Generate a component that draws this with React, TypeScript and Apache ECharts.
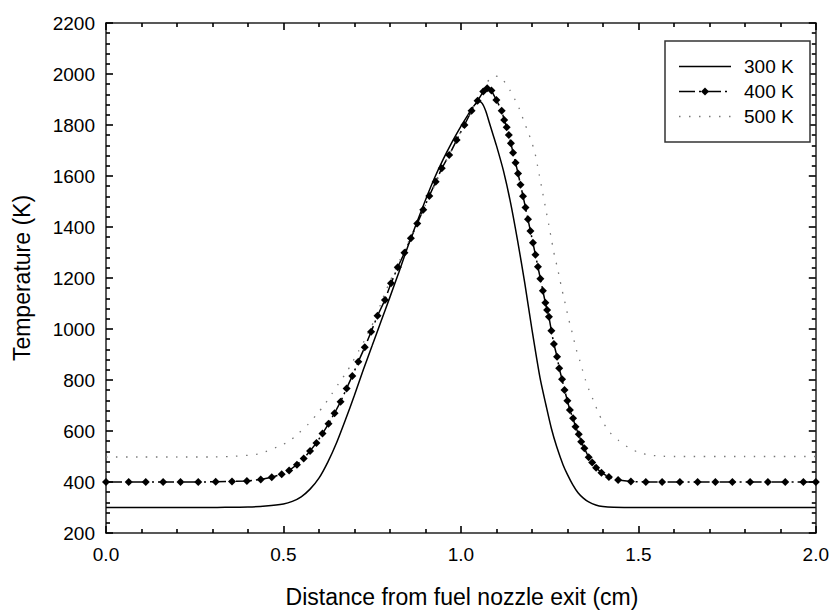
import React, { useEffect, useRef } from "react";
import * as echarts from "echarts";

// ---- data ----
const x300 = [0, 0.1, 0.2, 0.3, 0.35, 0.4, 0.45, 0.5, 0.525, 0.55, 0.575, 0.6, 0.625, 0.65, 0.675, 0.7, 0.725, 0.75, 0.775, 0.8, 0.825, 0.85, 0.875, 0.9, 0.925, 0.95, 0.975, 1.0, 1.02, 1.035, 1.05, 1.06, 1.07, 1.08, 1.09, 1.1, 1.12, 1.14, 1.16, 1.18, 1.2, 1.223, 1.24, 1.255, 1.27, 1.288, 1.3, 1.315, 1.33, 1.345, 1.36, 1.38, 1.4, 1.43, 1.5, 1.75, 2.0];
const t300 = [300, 300, 300, 300, 301, 302, 306, 314, 324, 342, 372, 415, 478, 555, 645, 740, 840, 935, 1030, 1125, 1222, 1322, 1415, 1505, 1590, 1665, 1733, 1795, 1840, 1872, 1893, 1885, 1855, 1810, 1765, 1720, 1620, 1495, 1345, 1180, 1000, 808, 700, 610, 538, 467, 430, 390, 358, 337, 322, 310, 304, 301, 300, 300, 300];

const x400 = [0, 0.064, 0.112, 0.161, 0.21, 0.26, 0.309, 0.355, 0.397, 0.436, 0.467, 0.495, 0.516, 0.538, 0.557, 0.575, 0.593, 0.61, 0.627, 0.644, 0.661, 0.678, 0.694, 0.711, 0.729, 0.747, 0.765, 0.786, 0.803, 0.822, 0.841, 0.859, 0.877, 0.894, 0.911, 0.929, 0.946, 0.967, 0.988, 1.01, 1.03, 1.047, 1.063, 1.074, 1.086, 1.1, 1.115, 1.122, 1.129, 1.135, 1.141, 1.147, 1.154, 1.161, 1.168, 1.175, 1.182, 1.189, 1.196, 1.203, 1.21, 1.217, 1.224, 1.231, 1.238, 1.243, 1.248, 1.255, 1.262, 1.271, 1.277, 1.285, 1.292, 1.3, 1.307, 1.316, 1.323, 1.332, 1.339, 1.348, 1.36, 1.37, 1.381, 1.396, 1.417, 1.443, 1.479, 1.521, 1.567, 1.617, 1.667, 1.717, 1.765, 1.815, 1.865, 1.914, 1.965, 2.0];
const t400 = [400, 400, 400, 400, 400, 400, 401, 402, 404, 410, 419, 430, 445, 468, 492, 522, 553, 590, 628, 670, 715, 767, 816, 872, 928, 989, 1052, 1114, 1179, 1242, 1299, 1356, 1414, 1468, 1522, 1577, 1630, 1682, 1741, 1800, 1856, 1895, 1931, 1944, 1935, 1898, 1856, 1820, 1791, 1761, 1728, 1691, 1652, 1610, 1566, 1521, 1476, 1430, 1384, 1338, 1291, 1244, 1197, 1150, 1103, 1075, 1048, 993, 941, 891, 846, 803, 761, 719, 682, 650, 617, 587, 558, 532, 497, 476, 456, 436, 420, 408, 402, 400, 400, 400, 400, 400, 400, 400, 400, 400, 400, 400];

const x500 = [0, 0.1, 0.2, 0.3, 0.35, 0.402, 0.43, 0.455, 0.483, 0.514, 0.542, 0.57, 0.595, 0.617, 0.636, 0.656, 0.677, 0.694, 0.712, 0.729, 0.742, 0.757, 0.772, 0.787, 0.801, 0.815, 0.829, 0.85, 0.875, 0.9, 0.925, 0.95, 0.975, 1.0, 1.025, 1.05, 1.072, 1.094, 1.105, 1.119, 1.138, 1.154, 1.166, 1.178, 1.189, 1.199, 1.208, 1.218, 1.228, 1.238, 1.248, 1.256, 1.264, 1.272, 1.283, 1.29, 1.297, 1.303, 1.311, 1.318, 1.325, 1.334, 1.342, 1.351, 1.362, 1.374, 1.386, 1.4, 1.418, 1.445, 1.473, 1.502, 1.536, 1.57, 1.6, 1.8, 2.0];
const t500 = [498, 498, 498, 498, 500, 505, 510, 522, 538, 558, 590, 627, 667, 706, 745, 787, 829, 869, 914, 957, 996, 1035, 1090, 1145, 1189, 1235, 1273, 1335, 1410, 1485, 1560, 1635, 1705, 1775, 1845, 1910, 1964, 1992, 1990, 1976, 1937, 1895, 1859, 1813, 1774, 1735, 1695, 1625, 1552, 1479, 1406, 1345, 1286, 1240, 1166, 1123, 1081, 1042, 1000, 960, 920, 881, 842, 800, 757, 718, 676, 636, 597, 562, 535, 515, 505, 501, 500, 500, 500];

const seriesNames = ["300 K", "400 K", "500 K"];
const xTitle = "Distance from fuel nozzle exit (cm)";
const yTitle = "Temperature (K)";

const FONT = "'Liberation Sans', Arial, Helvetica, sans-serif";
const AX = "#000";
const DASH400 = [16, 4, 2, 4];
const DASH500 = [1.5, 8.5];

const zip = (xs: number[], ys: number[]) => xs.map((x, i) => [x, ys[i]]);

function axisParts() {
  return {
    axisLine: { show: true, onZero: false, lineStyle: { color: "#222", width: 1.5 } },
    axisTick: { show: true, inside: true, length: 7, lineStyle: { color: AX, width: 1.6 } },
    minorTick: { show: true, splitNumber: 5, length: 4, lineStyle: { color: AX, width: 1.6 } },
    splitLine: { show: false },
  };
}

// legend drawn as graphics (box 665..810 x 41..142)
function legendGraphics() {
  const rows = [66.5, 91.5, 116.5];
  const lx1 = 679, lx2 = 731, tx = 744;
  const els: any[] = [
    { type: "rect", shape: { x: 665, y: 41, width: 145, height: 101 }, style: { fill: "#fff", stroke: "#333", lineWidth: 1.5 }, z: 10 },
    { type: "line", shape: { x1: lx1, y1: rows[0], x2: lx2, y2: rows[0] }, style: { stroke: "#000", lineWidth: 1.5 }, z: 11 },
    { type: "line", shape: { x1: lx1, y1: rows[1], x2: lx2, y2: rows[1] }, style: { stroke: "#000", lineWidth: 1.5, lineDash: DASH400 }, z: 11 },
    { type: "polygon", shape: { points: [[705, rows[1] - 4], [709, rows[1]], [705, rows[1] + 4], [701, rows[1]]] }, style: { fill: "#000" }, z: 12 },
    { type: "line", shape: { x1: lx1, y1: rows[2], x2: lx2, y2: rows[2] }, style: { stroke: "#777", lineWidth: 1.3, lineDash: DASH500 }, z: 11 },
  ];
  seriesNames.forEach((n, i) => {
    els.push({
      type: "text", x: tx, y: rows[i], z: 12,
      style: { text: n, fontSize: 19, fontFamily: FONT, fill: "#000", align: "left", verticalAlign: "middle", textAlign: "left", textVerticalAlign: "middle" },
    });
  });
  return els;
}

export default function App() {
  const ref = useRef<HTMLDivElement>(null);
  useEffect(() => {
    if (!ref.current) return;
    const chart = echarts.init(ref.current, undefined, { renderer: "svg" });
    chart.setOption({
      animation: false,
      backgroundColor: "#fff",
      grid: { left: 106, right: 13, top: 23, bottom: 78 },
      xAxis: [
        {
          type: "value", min: 0, max: 2, interval: 0.5,
          ...axisParts(),
          axisLabel: { fontSize: 19, color: "#000", margin: 12, fontFamily: FONT, formatter: (v: number) => v.toFixed(1) },
        },
        {
          type: "value", min: 0, max: 2, interval: 0.5, position: "top",
          ...axisParts(),
          axisLabel: { show: false },
        },
      ],
      yAxis: [
        {
          type: "value", min: 200, max: 2200, interval: 200,
          ...axisParts(),
          axisLabel: { fontSize: 19, color: "#000", margin: 11, fontFamily: FONT, formatter: (v: number) => String(v) },
        },
        {
          type: "value", min: 200, max: 2200, interval: 200, position: "right",
          ...axisParts(),
          axisLabel: { show: false },
        },
      ],
      graphic: [
        {
          type: "text", x: 462, y: 597,
          style: { text: xTitle, fontSize: 23, fontFamily: FONT, fill: "#000", align: "center", verticalAlign: "middle", textAlign: "center", textVerticalAlign: "middle" },
        },
        {
          type: "text", x: 22, y: 278, rotation: Math.PI / 2,
          style: { text: yTitle, fontSize: 23, fontFamily: FONT, fill: "#000", align: "center", verticalAlign: "middle", textAlign: "center", textVerticalAlign: "middle" },
        },
        ...legendGraphics(),
      ],
      series: [
        {
          name: seriesNames[0],
          type: "line",
          data: zip(x300, t300),
          symbol: "none",
          smooth: 0.25,
          lineStyle: { color: "#000", width: 1.5 },
        },
        {
          name: seriesNames[1],
          type: "line",
          data: zip(x400, t400),
          symbol: "diamond",
          symbolSize: 8,
          showAllSymbol: true,
          lineStyle: { color: "#000", width: 1.5, type: DASH400 },
          itemStyle: { color: "#000" },
        },
        {
          name: seriesNames[2],
          type: "line",
          data: zip(x500, t500),
          symbol: "none",
          smooth: 0.25,
          lineStyle: { color: "#777", width: 1.3, type: DASH500 },
        },
      ],
    });
    return () => chart.dispose();
  }, []);
  return <div ref={ref} style={{ width: 832, height: 611, position: "absolute", left: 0, top: 0 }} />;
}
